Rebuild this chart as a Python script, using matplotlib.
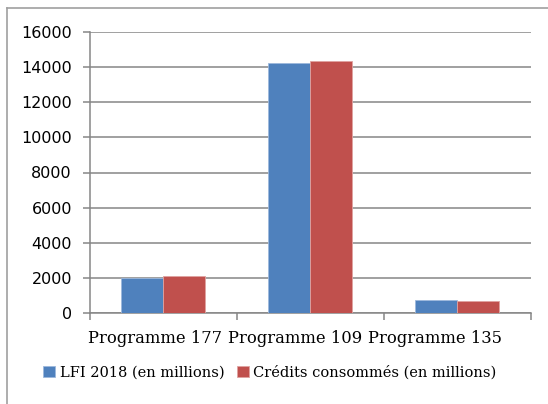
import matplotlib
matplotlib.use("Agg")
import matplotlib.pyplot as plt
from matplotlib.lines import Line2D
from matplotlib.transforms import ScaledTranslation
import numpy as np

categories = ["Programme 177", "Programme 109", "Programme 135"]
lfi_2018 = [1980, 14250, 750]
credits_consommes = [2100, 14350, 700]
series_names = ["LFI 2018 (en millions)", "Crédits consommés (en millions)"]
y_ticks = [0, 2000, 4000, 6000, 8000, 10000, 12000, 14000, 16000]

W, H = 548, 404
fig = plt.figure(figsize=(W / 100, H / 100), dpi=100)
ax = fig.add_axes([90 / W, 1 - 313.3 / H, (530.7 - 90) / W, (313.3 - 31.7) / H])

grey = "#868686"
blue, red = "#4F81BD", "#C0504D"
x = np.arange(len(categories))
bw = 0.286
b1 = ax.bar(x - bw / 2, lfi_2018, bw, color=blue, edgecolor="#9db8dc",
            linewidth=0.6, label=series_names[0], zorder=3)
b2 = ax.bar(x + bw / 2, credits_consommes, bw, color=red, edgecolor="#e0a3a1",
            linewidth=0.6, label=series_names[1], zorder=3)

ax.set_xlim(-0.5, 2.5)
ax.set_ylim(0, 16000)
ax.set_yticks(y_ticks)
ax.set_yticklabels([str(v) for v in y_ticks], fontfamily="DejaVu Sans", fontsize=11.5)
ax.yaxis.grid(True, color=grey, linewidth=1.1, zorder=0)
ax.set_axisbelow(True)

# category labels: drawn as text, they sit a little left of the centres in the original
ax.set_xticks(x)
ax.set_xticklabels([])
for xi, name, dx in zip(x, categories, [-8, -15, -22]):
    tr = ax.get_xaxis_transform() + ScaledTranslation(dx / 100, -25 / 100, fig.dpi_scale_trans)
    ax.text(xi, 0, name, transform=tr, ha="center", va="center",
            fontfamily="DejaVu Serif", fontsize=11.8)
ax.set_xticks([-0.5, 0.5, 1.5, 2.5], minor=True)
ax.tick_params(axis="x", which="major", length=0)
ax.tick_params(axis="x", which="minor", length=5, color=grey, width=1.1)
ax.tick_params(axis="y", length=5, color=grey, width=1.1, pad=8)

for s in ["top", "right"]:
    ax.spines[s].set_visible(False)
for s in ["left", "bottom"]:
    ax.spines[s].set_color(grey)
    ax.spines[s].set_linewidth(1.1)

fig.legend(handles=[b1, b2], labels=series_names, loc="center",
           bbox_to_anchor=(270 / W, 1 - 372 / H), ncol=2, frameon=False,
           prop={"family": "DejaVu Serif", "size": 10.5},
           handlelength=0.8, handleheight=0.8, handletextpad=0.3,
           columnspacing=0.9)

# outer frame of the chart (only top and left edges fall inside the image)
fig.add_artist(Line2D([6.5 / W, 1], [1 - 8 / H, 1 - 8 / H], transform=fig.transFigure,
                      color="#a0a0a0", linewidth=1.2))
fig.add_artist(Line2D([6.5 / W, 6.5 / W], [0, 1 - 8 / H], transform=fig.transFigure,
                      color="#a0a0a0", linewidth=1.2))

fig.savefig("out.png", dpi=100)
